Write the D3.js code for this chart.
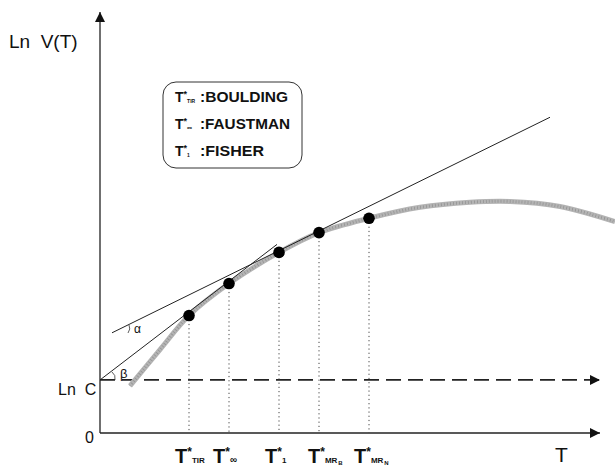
<!DOCTYPE html>
<html>
<head>
<meta charset="utf-8">
<script src="https://cdn.jsdelivr.net/npm/d3@7"></script>
<style>
  body { margin: 0; background: #fff; }
  svg { display: block; }
  text { font-family: "Liberation Sans", "DejaVu Sans", sans-serif; fill: #111; }
</style>
</head>
<body>
<script>
// curve points (T, ln V)
const curveT = [6, 12, 17.8, 25.8, 35.8, 43.8, 53.8, 64, 74, 82, 92, 103];
const curveV = [11.2, 19.8, 27.9, 35.5, 42.9, 47.6, 51.0, 53.6, 54.8, 55.0, 53.8, 50.2];

// optimum rotation points
const dotT = [17.8, 25.8, 35.8, 43.8, 53.8];
const dotV = [27.9, 35.5, 42.9, 47.6, 51.0];
const dotSub = ['TIR', '∞', '1', 'MR', 'MR'];
const dotSub2 = ['', '', '', 'B', 'N'];
const labelShift = [-14, -16, -14, -11, -15];

const lnC = 12.6;
// tangent lines
const alphaLine = [[2.4, 23.8], [90, 75]];
const betaLine = [[0, 12.6], [35.4, 44.8]];

const legendSub = ['TIR', '∞', '1'];
const legendName = [':BOULDING', ':FAUSTMAN', ':FISHER'];

const width = 615, height = 466;

const x = d3.scaleLinear().domain([0, 100]).range([100, 600]);
const y = d3.scaleLinear().domain([0, 100]).range([433, 12]);

const svg = d3.select('body').append('svg')
  .attr('width', width)
  .attr('height', height);

const defs = svg.append('defs');
defs.append('marker')
  .attr('id', 'arrow')
  .attr('viewBox', '0 0 10 10')
  .attr('refX', 10).attr('refY', 5)
  .attr('markerWidth', 10).attr('markerHeight', 10)
  .attr('markerUnits', 'userSpaceOnUse')
  .attr('orient', 'auto')
  .append('path')
  .attr('d', 'M0,0 L10,5 L0,10 Z')
  .attr('fill', '#111');

// axes
svg.append('line')
  .attr('x1', x(0)).attr('y1', y(0))
  .attr('x2', x(0)).attr('y2', y(100))
  .attr('stroke', '#222').attr('stroke-width', 1.3)
  .attr('marker-end', 'url(#arrow)');

svg.append('line')
  .attr('x1', x(0)).attr('y1', y(0))
  .attr('x2', x(100)).attr('y2', y(0))
  .attr('stroke', '#222').attr('stroke-width', 1.6)
  .attr('marker-end', 'url(#arrow)');

// Ln C dashed line
svg.append('line')
  .attr('x1', x(0)).attr('y1', y(lnC))
  .attr('x2', x(100)).attr('y2', y(lnC))
  .attr('stroke', '#222').attr('stroke-width', 1.8)
  .attr('stroke-dasharray', '15,7')
  .attr('marker-end', 'url(#arrow)');

// vertical dotted drops
svg.selectAll('.drop')
  .data(dotT)
  .enter()
  .append('line')
  .attr('class', 'drop')
  .attr('x1', d => x(d)).attr('x2', d => x(d))
  .attr('y1', (d, i) => y(dotV[i]))
  .attr('y2', y(0))
  .attr('stroke', '#444').attr('stroke-width', 1)
  .attr('stroke-dasharray', '1.2,3');

// value curve (thick stippled gray)
const line = d3.line()
  .x(d => x(d[0]))
  .y(d => y(d[1]))
  .curve(d3.curveCatmullRom.alpha(0.5));

const curveData = curveT.map((t, i) => [t, curveV[i]]);

svg.append('path')
  .datum(curveData)
  .attr('d', line)
  .attr('fill', 'none')
  .attr('stroke', '#b4b4b4')
  .attr('stroke-width', 5);

svg.append('path')
  .datum(curveData)
  .attr('d', line)
  .attr('fill', 'none')
  .attr('stroke', '#777')
  .attr('stroke-width', 3)
  .attr('stroke-dasharray', '0.7,2.3')
  .attr('opacity', 0.6);

// tangent lines
const straight = d3.line().x(d => x(d[0])).y(d => y(d[1]));
[alphaLine, betaLine].forEach(l => {
  svg.append('path')
    .attr('d', straight(l))
    .attr('fill', 'none')
    .attr('stroke', '#222')
    .attr('stroke-width', 1);
});

// angle marks
svg.append('path')
  .attr('d', 'M129,325 Q131,329 128,333')
  .attr('fill', 'none').attr('stroke', '#333').attr('stroke-width', 0.8);
svg.append('text')
  .attr('x', 134).attr('y', 333)
  .attr('font-size', 12)
  .text('α');

svg.append('path')
  .attr('d', 'M112,372 Q116,375 115,380')
  .attr('fill', 'none').attr('stroke', '#333').attr('stroke-width', 0.8);
svg.append('text')
  .attr('x', 120).attr('y', 378)
  .attr('font-size', 13)
  .text('β');

// dots
svg.selectAll('.dot')
  .data(dotT)
  .enter()
  .append('circle')
  .attr('class', 'dot')
  .attr('cx', d => x(d))
  .attr('cy', (d, i) => y(dotV[i]))
  .attr('r', 5.8)
  .attr('fill', '#000');

// x-axis labels T*_sub (one text each, tspans)
const lab = svg.selectAll('.tlab')
  .data(dotT)
  .enter()
  .append('text')
  .attr('class', 'tlab')
  .attr('x', (d, i) => x(d) + labelShift[i])
  .attr('y', 463)
  .attr('font-family', '"Liberation Sans Narrow", "Liberation Sans", sans-serif')
  .attr('font-weight', 'bold');

lab.append('tspan')
  .attr('font-size', 20)
  .text('T');
lab.append('tspan')
  .attr('font-size', 12)
  .attr('dy', -7)
  .text('*');
lab.append('tspan')
  .attr('font-size', (d, i) => dotSub[i] === '∞' ? 10 : 8)
  .attr('dy', 7)
  .text((d, i) => dotSub[i]);
lab.append('tspan')
  .attr('font-size', 6)
  .attr('dx', 1).attr('dy', 2)
  .text((d, i) => dotSub2[i]);

// axis titles
svg.append('text')
  .attr('x', 9).attr('y', 48)
  .attr('font-family', 'DejaVu Sans')
  .attr('font-size', 19)
  .attr('xml:space', 'preserve')
  .text('Ln  V(T)');

svg.append('text')
  .attr('x', 58).attr('y', 395)
  .attr('font-family', 'DejaVu Sans')
  .attr('font-size', 16)
  .attr('xml:space', 'preserve')
  .text('Ln  C');

svg.append('text')
  .attr('x', 85).attr('y', 443)
  .attr('font-family', 'DejaVu Sans')
  .attr('font-size', 16)
  .text('0');

svg.append('text')
  .attr('x', 555).attr('y', 462)
  .attr('font-family', '"Liberation Sans Narrow", "Liberation Sans", sans-serif')
  .attr('font-size', 21)
  .text('T');

// legend box
svg.append('rect')
  .attr('x', 163).attr('y', 82)
  .attr('width', 139).attr('height', 86)
  .attr('rx', 13)
  .attr('fill', '#fff')
  .attr('stroke', '#333')
  .attr('stroke-width', 1);

const leg = svg.selectAll('.leg')
  .data(legendName)
  .enter()
  .append('text')
  .attr('class', 'leg')
  .attr('x', 175)
  .attr('y', (d, i) => 102 + i * 27)
  .attr('font-weight', 'bold');

leg.append('tspan')
  .attr('font-size', 14)
  .text('T');
leg.append('tspan')
  .attr('font-size', 9)
  .attr('dy', -5)
  .text('*');
leg.append('tspan')
  .attr('font-size', (d, i) => legendSub[i] === '∞' ? 7 : 5)
  .attr('dy', 6)
  .text((d, i) => legendSub[i]);
leg.append('tspan')
  .attr('x', 200).attr('dy', -1)
  .attr('font-size', 15)
  .attr('textLength', (d, i) => [88, 90, 64][i])
  .attr('lengthAdjust', 'spacingAndGlyphs')
  .text(d => d);
</script>
</body>
</html>
